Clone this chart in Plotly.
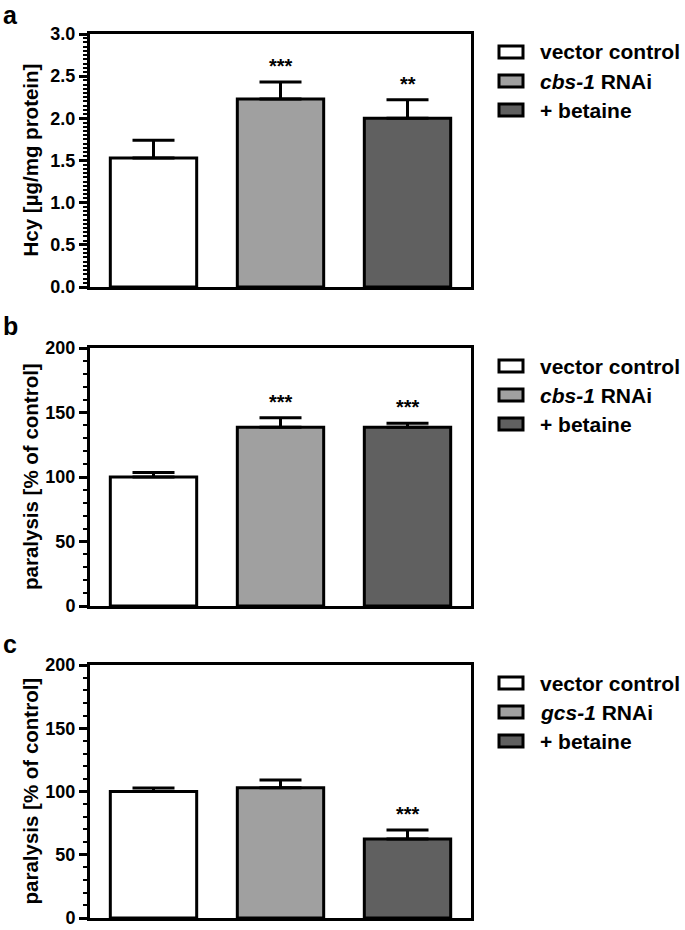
import plotly.graph_objects as go

W, H = 685, 930

categories = ["vector control", "RNAi", "+ betaine"]
colors = ["#ffffff", "#a0a0a0", "#606060"]

# panel a
a_vals = [1.53, 2.23, 2.00]
a_err = [0.21, 0.20, 0.22]
a_stars = ["", "***", "**"]
# panel b
b_vals = [100, 138.5, 138.5]
b_err = [3.5, 7.5, 3.2]
b_stars = ["", "***", "***"]
# panel c
c_vals = [100, 103, 62.5]
c_err = [2.8, 6.0, 7.0]
c_stars = ["", "", "***"]

a_legend = ["vector control", "<i>cbs-1</i> RNAi", "+ betaine"]
b_legend = ["vector control", "<i>cbs-1</i> RNAi", "+ betaine"]
c_legend = ["vector control", "<i>gcs-1</i> RNAi", "+ betaine"]

FONT = "Liberation Sans, Arial, Helvetica, sans-serif"

def py(p):  # pixel y (from top) -> paper
    return 1 - p / H

def px(p):
    return p / W

panels = [
    dict(vals=a_vals, err=a_err, stars=a_stars, leg=a_legend, top=34, bot=287,
         rng=[0, 3.0], dtick=0.5, minor=0.05, fmt=".1f", title="Hcy [µg/mg protein]", letter="a",
         letter_y=15, leg_rows=[52, 81, 110]),
    dict(vals=b_vals, err=b_err, stars=b_stars, leg=b_legend, top=348, bot=606,
         rng=[0, 200], dtick=50, minor=10, fmt="d", title="paralysis [% of control]", letter="b",
         letter_y=326, leg_rows=[366, 395, 424]),
    dict(vals=c_vals, err=c_err, stars=c_stars, leg=c_legend, top=665, bot=918,
         rng=[0, 200], dtick=50, minor=10, fmt="d", title="paralysis [% of control]", letter="c",
         letter_y=644, leg_rows=[683, 712, 741]),
]

fig = go.Figure()
shapes = []
annotations = []
x_left, x_right = 90, 471

for i, p in enumerate(panels):
    n = "" if i == 0 else str(i + 1)
    xa, ya = "x" + n, "y" + n
    fig.add_trace(go.Bar(
        x=[0, 1, 2], y=p["vals"], width=0.68,
        marker=dict(color=colors, line=dict(color="black", width=3)),
        error_y=dict(type="data", symmetric=False, array=p["err"],
                     arrayminus=[0, 0, 0], color="black", thickness=3, width=21),
        xaxis=xa, yaxis=ya, showlegend=False, hoverinfo="skip",
    ))
    xkey = "xaxis" + n
    ykey = "yaxis" + n
    fig.layout[xkey] = dict(domain=[px(x_left), px(x_right)], range=[-0.5, 2.5],
                            showticklabels=False, ticks="", showgrid=False, zeroline=False,
                            showline=True, linecolor="black", linewidth=3, mirror=True,
                            anchor=ya, fixedrange=True, automargin=False)
    fig.layout[ykey] = dict(domain=[py(p["bot"]), py(p["top"])], range=p["rng"],
                            dtick=p["dtick"], tick0=0, tickformat=p["fmt"],
                            ticks="outside", ticklen=8, tickwidth=3, tickcolor="black",
                            minor=dict(dtick=p["minor"], ticks="outside", ticklen=4,
                                       tickwidth=2, tickcolor="black", showgrid=False),
                            showgrid=False, zeroline=False,
                            showline=True, linecolor="black", linewidth=3, mirror=True,
                            tickfont=dict(family=FONT, size=18, color="black", weight="bold"),
                            ticklabeloverflow="allow",
                            anchor=xa, fixedrange=True, automargin=False)
    # significance stars
    for j, s in enumerate(p["stars"]):
        if s:
            annotations.append(dict(x=j, y=p["vals"][j] + p["err"][j], xref=xa, yref=ya,
                                    text="<b>" + s + "</b>", showarrow=False, yanchor="middle",
                                    yshift=16, font=dict(family=FONT, size=20, color="black")))
    # y title
    annotations.append(dict(x=px(30), y=py((p["top"] + p["bot"]) / 2), xref="paper", yref="paper",
                            text="<b>" + p["title"] + "</b>", textangle=-90, showarrow=False,
                            xanchor="center", yanchor="middle",
                            font=dict(family=FONT, size=20.5, color="black")))
    # panel letter
    annotations.append(dict(x=px(1), y=py(p["letter_y"]), xref="paper", yref="paper",
                            text="<b>" + p["letter"] + "</b>", showarrow=False,
                            xanchor="left", yanchor="middle",
                            font=dict(family=FONT, size=25, color="black")))
    # legend
    for j, (lab, col) in enumerate(zip(p["leg"], colors)):
        yc = p["leg_rows"][j]
        shapes.append(dict(type="rect", xref="paper", yref="paper",
                           x0=px(499), x1=px(523), y0=py(yc + 6), y1=py(yc - 6),
                           fillcolor=col, line=dict(color="black", width=3)))
        annotations.append(dict(x=px(538), y=py(yc), xref="paper", yref="paper",
                                text="<b>" + lab + "</b>", showarrow=False,
                                xanchor="left", yanchor="middle",
                                font=dict(family=FONT, size=21, color="black")))

fig.update_layout(width=W, height=H, margin=dict(l=0, r=0, t=0, b=0, pad=0),
                  paper_bgcolor="white", plot_bgcolor="white",
                  shapes=shapes, annotations=annotations, showlegend=False,
                  barmode="overlay", template="none")

fig.write_html("out.html", config={"displayModeBar": False},
               post_script="document.body.style.margin='0px';")
